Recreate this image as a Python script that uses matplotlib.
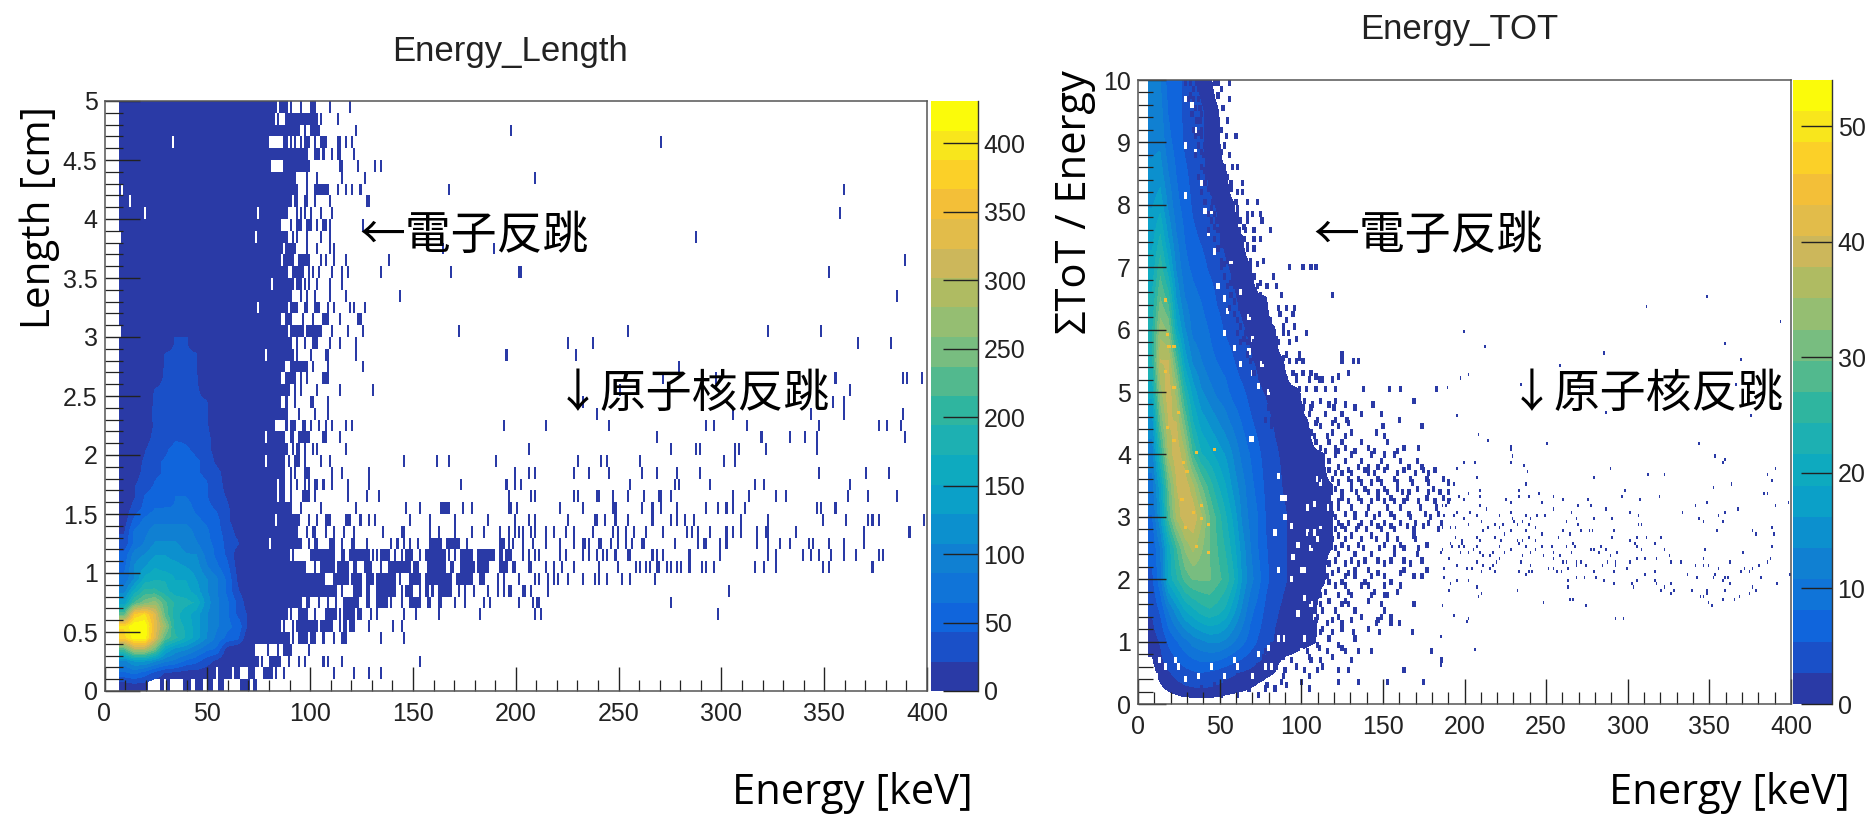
import numpy as np
import matplotlib
matplotlib.use('Agg')
import matplotlib.pyplot as plt
from matplotlib.colors import ListedColormap, BoundaryNorm
from matplotlib.ticker import MultipleLocator, FormatStrFormatter

W, H = 1866, 815
CJK = ['Noto Sans CJK JP', 'DejaVu Sans']

# colorbar bands, bottom to top
band_colors = ['#2a3aa6', '#1a50c8', '#1065dc', '#1074d8', '#1080d2', '#0c90ce', '#0ba0c8',
               '#0eaabf', '#1db0b2', '#2fb59f', '#52b98e', '#78bd80', '#95be72', '#afbb62',
               '#ccb75b', '#e2bc4a', '#f3bf38', '#fbd028', '#f8e61c', '#fbfb0a']

# ---- Energy_Length: 1 keV x 0.1 cm bins, rows run from 0.0 to 4.9 cm
len_max = 431
# last filled energy of the solid block in each row
len_edge = [20, 53, 74, 72, 89, 85, 88, 95, 112, 105,
            97, 89, 88, 92, 84, 87, 83, 83, 87, 77,
            88, 77, 82, 83, 85, 89, 85, 87, 78, 90,
            88, 85, 88, 90, 81, 88, 85, 86, 88, 85,
            88, 90, 92, 92, 79, 85, 79, 84, 82, 83]
# cells outside the solid block
len_cells = [
    [27, 28, 30, 31, 38, 39, 40, 41, 44, 45, 46, 47, 50, 51, 52, 55, 56, 57, 66, 67, 68, 69, 70, 72, 73],
    [*range(55, 62), 63, 64, 65, 70, 71, 72, *range(77, 82), 83, 87, 111, 121, 128, 134],
    [76, *range(80, 86), 89, 94, 97, 106, 108, 115, 153],
    [79, 84, 87, 88, 89, 90, 99],
    [91, *range(94, 99), 100, 101, 102, 106, 111, 115, 116, 117, 134, 145],
    [87, 91, *range(93, 104), *range(105, 111), 114, 116, 117, 119, 120, 121, 128, 140, 144],
    [90, *range(94, 99), 102, *range(107, 113), 114, *range(116, 122), 123, 124, 129, 132, 145, 151, 162, 182, 209, 212, 298],
    [98, 99, 104, 108, 112, *range(116, 124), 127, 128, *range(132, 138), 139, 144, *range(148, 154), 157, 158, 162, 163, 170, 175, 184, 187, 201, 208, 210, 211, 275],
    [115, *range(121, 125), 127, 128, *range(132, 142), 144, *range(146, 150), 153, 156, 157, 159, *range(162, 169), 172, 175, 179, 186, 191, 194, 196, 197, 203, 204, 207, 215, 303],
    [106, *range(111, 119), *range(120, 125), *range(127, 131), *range(132, 142), 143, *range(148, 154), *range(156, 169), *range(171, 179), 182, 183, 184, 191, 194, 201, 209, 211, 215, 218, 220, 225, 232, 238, 240, 244, 251, 255, 267],
    [102, *range(105, 112), *range(113, 119), 121, 122, 126, 127, 128, 129, 134, *range(138, 149), 150, 151, 152, *range(157, 166), 168, 169, *range(173, 180), *range(181, 187), 192, 193, 194, 195, 198, 199, 206, 207, 214, 218, 222, 228, 240, 249, 258, 260, 263, 265, 268, 269, 273, 275, 278, 280, 284, 290, 292, 296, 316, 320, 326, 349, 352, 373],
    [91, *range(100, 112), 115, 116, *range(119, 129), 130, 132, *range(134, 139), 141, 144, *range(146, 150), 153, *range(156, 166), 167, 170, *range(173, 179), *range(181, 190), 192, 193, 195, 196, 197, 203, 206, 209, 211, 221, 224, 232, 235, 239, 242, 244, 248, 254, 255, 266, 268, 271, 284, 299, 322, 326, 339, 343, 347, 353, 359, 365, 376, 378],
    [89, 90, 91, 92, 93, 94, 95, 99, 102, 103, 109, 110, 111, 115, 120, 121, 127, 139, 142, 145, 148, 152, *range(158, 164), *range(166, 173), 176, 192, 193, 194, 196, 198, 203, 208, 214, 221, 228, 232, 233, 235, 240, 241, 246, 249, 253, 256, 261, 262, 277, 288, 291, 292, 299, 302, 317, 322, 328, 333, 342, 344, 352, 359, 369],
    [93, 98, 101, 102, 107, 111, 116, 121, 135, 144, 145, 158, 162, 170, 178, 184, 192, 196, 199, 201, 203, 207, 209, 214, 218, 224, 228, 237, 247, 249, 253, 257, 263, 271, 283, 285, 288, 294, 302, 305, 309, 317, 321, 322, 336, 369, 391],
    [*range(85, 95), 99, 103, 107, 108, 109, 117, 118, 119, 124, 128, 131, 148, 158, 170, 186, 199, 206, 209, 225, 238, 239, 243, 248, 254, 266, 275, 278, 282, 286, 309, 322, 349, 360, 371, 373, 376, 398],
    [88, 89, 90, 95, 105, 122, 146, 153, *range(163, 168), 174, 178, 196, 200, 197, 221, 232, 247, 248, 261, 266, 270, 278, 292, 298, 302, 305, 311, 346, 348, 355],
    [85, 86, 87, 90, 96, 97, 98, 99, 102, 118, 127, 133, 196, 207, 209, 228, 230, 239, 240, 247, 254, 262, 269, 270, 275, 305, 313, 326, 331, 361, 371, 385],
    [85, 86, 87, 90, 93, 97, 99, 102, 103, 106, 110, 118, 128, 173, 195, 199, 202, 255, 277, 279, 294, 316, 320, 362],
    [90, 92, 97, 98, 99, 110, 115, 128, 199, 206, 209, 228, 235, 245, 261, 268, 278, 289, 347, 370, 381],
    [79, 80, 81, 82, 83, 84, 85, 86, 87, 89, 92, 93, 94, 97, 105, 109, 145, 161, 167, 190, 230, 241, 244, 260, 301, 306],
    [91, 93, 94, 97, 101, 103, 117, 206, 275, 287, 289, 306, 308, 321, 346],
    [79, 80, *range(81, 88), 90, 91, 94, 95, 96, 97, 98, 99, 106, 107, 114, 268, 319, 333, 340, 346, 389],
    [88, 90, 91, 92, 96, 97, 100, 104, 107, 110, 117, 120, 194, 214, 245, 292, 296, 312, 347, 376, 380, 387],
    [84, 85, 86, 87, 88, 94, 102, 108, 239, 305, 343, 359, 388],
    [88, 92, 100, 101, 108, 232, 354, 359],
    [92, 95, 103, 114, 130, 250, 362],
    [88, 89, 90, 91, 92, 95, 98, 106, 107, 108, 271, 297, 355, 388, 390, 397],
    [90, 91, 92, 93, 94, 95, 96, 97, 98, 101, 108, 125, 279],
    [79, *range(80, 92), 93, 100, 107, 108, 122, 195, 229],
    [93, 97, 101, 102, 103, 109, 114, 122, 225, 237, 366, 382],
    [*range(90, 97), *range(98, 106), 110, 118, 125, 172, 254, 322, 348],
    [88, 89, 90, 96, 101, 106, 107, 108, 114, 123, 124],
    [90, 91, 92, 93, 97, 98, 102, 103, 104, 108, 111, 119, 121, 126],
    [95, 98, 102, 109, 117, 143, 385],
    [82, 83, *range(84, 92), 93, 94, 95, 97, 99, 103, 109, 115],
    [91, 92, 93, 94, 95, 96, 99, 101, 104, 110, 115, 118, 134, 168, 201, 202, 352],
    [87, *range(88, 92), *range(94, 100), 105, 107, 111, 117, 138, 389],
    [88, 89, 90, 91, 92, 98, 103, 109, 111, 164, 189],
    [91, 93, 98, 105, 109, 287],
    [90, 93, 94, 95, 98, 99, 100, 103, 106, 107, 109, 125],
    [93, 95, 97, 100, 105, 110, 357],
    [92, 93, 97, 98, 102, 109, 127, 128],
    [93, 98, 102, 103, 104, 105, 106, 107, 108, 113, 117, 120, 124, 167, 359],
    [98, 103, 115, 126, 209],
    [80, *range(87, 93), 93, 94, *range(95, 100), 114, 115, 123, 131, 134],
    [86, *range(87, 98), 98, 102, 103, 104, 106, 110, 113, 114, 121],
    [87, 88, 90, 92, 95, 97, *range(98, 100), 102, 105, 106, 107, 113, 114, 117, 120, 270],
    [*range(85, 92), 92, 93, 94, 97, 100, 101, 102, 103, 104, 122, 197],
    [84, 88, *range(89, 104), 105, 113],
    [85, 86, 87, 88, 90, 95, 100, 101, 102, 109, 119],
]
# white holes inside the solid block (length row, energy)
len_hole_row = [46, 42, 41, 40, 40, 38, 38, 34, 32, 30, 28, 21, 19, 14, 12]
len_hole_e = [33, 8, 12, 19, 74, 7, 73, 81, 74, 7, 78, 78, 78, 83, 80]
# mean counts, columns 5 keV wide from 7 keV, rows from 0.0 cm
len_blocks = np.array([
    [10, 15, 12, 8, 5, 0, 0, 0, 0, 0, 0, 0, 0],
    [60, 70, 55, 35, 20, 15, 10, 10, 10, 10, 0, 0, 0],
    [100, 130, 130, 110, 90, 80, 60, 50, 30, 15, 5, 0, 0],
    [220, 290, 290, 240, 150, 120, 110, 90, 70, 60, 10, 0, 0],
    [380, 425, 425, 330, 230, 200, 170, 140, 110, 80, 60, 50, 5],
    [390, 430, 430, 340, 270, 180, 170, 140, 110, 90, 70, 60, 20],
    [230, 370, 390, 330, 230, 180, 160, 140, 110, 90, 70, 40, 20],
    [140, 220, 250, 270, 220, 190, 180, 170, 120, 90, 70, 40, 10],
    [100, 160, 200, 200, 180, 160, 160, 140, 110, 90, 60, 25, 5],
    [70, 110, 160, 170, 170, 150, 150, 130, 110, 90, 60, 20, 5],
    [60, 110, 130, 150, 140, 140, 130, 120, 90, 70, 50, 15, 3],
    [50, 100, 110, 130, 130, 120, 110, 110, 80, 60, 40, 10, 3],
    [30, 70, 90, 110, 110, 110, 100, 90, 70, 60, 35, 25, 3],
    [20, 70, 80, 100, 100, 100, 100, 80, 70, 50, 35, 15, 3],
    [10, 50, 70, 80, 80, 80, 80, 70, 60, 50, 25, 10, 0],
    [8, 30, 50, 65, 65, 65, 75, 60, 50, 40, 25, 10, 0],
    [5, 20, 45, 50, 60, 65, 65, 55, 45, 30, 20, 10, 0],
    [5, 20, 35, 45, 50, 60, 60, 50, 45, 30, 15, 5, 0],
    [5, 10, 30, 40, 45, 50, 50, 45, 40, 30, 10, 0, 0],
    [5, 10, 25, 40, 45, 50, 50, 45, 40, 15, 5, 0, 0],
    [5, 8, 20, 35, 40, 50, 45, 40, 30, 10, 5, 0, 0],
    [5, 5, 10, 30, 30, 40, 40, 40, 30, 8, 0, 0, 0],
    [5, 5, 8, 25, 30, 35, 35, 30, 25, 5, 0, 0, 0],
    [5, 5, 8, 28, 28, 32, 32, 30, 25, 5, 0, 0, 0],
    [5, 5, 5, 26, 28, 30, 30, 28, 24, 0, 0, 0, 0],
    [5, 5, 5, 24, 28, 30, 28, 26, 10, 0, 0, 0, 0],
    [5, 5, 5, 10, 26, 28, 26, 24, 5, 0, 0, 0, 0],
    [5, 5, 5, 5, 25, 26, 26, 24, 0, 0, 0, 0, 0],
    [5, 5, 5, 5, 24, 25, 25, 24, 0, 0, 0, 0, 0],
    [5, 5, 5, 5, 10, 24, 24, 10, 0, 0, 0, 0, 0],
], dtype=float)

# ---- Energy_TOT: smooth body sampled every 5 keV (from 8.5) and every 0.5 in y (from 0)
tot_max = 54
tot_body_rows = [
    [0],
    [0.5, 1.5, 2.5, 3.5, 4.5, 5, 5.5, 5, 4.5, 3.5, 3, 2.5, 2, 1.5, 1.2, 1],
    [1.5, 3, 6, 8, 10, 12, 13, 14, 14, 13, 11, 9, 7, 5, 3.5, 2.5, 2, 1.7, 1.4, 1.2, 1.05],
    [3, 6, 11, 15, 19, 21, 23, 24, 23, 21, 17, 13, 9, 7, 4.5, 3, 2.4, 2, 1.6, 1.3, 1.1],
    [5, 10, 20, 24, 28, 30, 30, 30, 28, 26, 22, 16, 12, 9, 6, 4, 3, 2.4, 2, 1.8, 1.5, 1.2],
    [6, 11, 20, 27, 33, 36, 33, 30, 27, 24, 20, 15, 11, 8, 5.5, 4, 3, 2.4, 2, 1.7, 1.4, 1.2, 1.05],
    [8, 16, 28, 36, 40, 40, 36, 30, 26, 22, 18, 13, 10, 8, 5, 4, 3, 2.4, 2, 1.8, 1.6, 1.3, 1.1],
    [10, 18, 30, 38, 40, 36, 30, 26, 22, 19, 15, 12, 9, 7, 4.5, 3.5, 2.6, 2.2, 1.9, 1.6, 1.4, 1.2, 1.05],
    [12, 24, 36, 40, 36, 27, 22, 20, 18, 16, 13, 10, 8, 6, 4, 3, 2.4, 2, 1.7, 1.5, 1.2, 1.05],
    [15, 30, 38, 38, 30, 22, 18, 16, 14, 12, 10, 8, 6, 4.5, 3.2, 2.5, 2, 1.7, 1.4, 1.15],
    [20, 34, 40, 34, 24, 18, 14, 12, 10, 9, 7, 6, 4.5, 3, 2.5, 2, 1.6, 1.3, 1.1],
    [24, 38, 38, 28, 18, 13, 11, 9, 8, 7, 5.5, 4, 3, 2.2, 1.7, 1.3, 1.1],
    [24, 34, 32, 20, 14, 10, 9, 8, 6.5, 5, 4, 3, 2.2, 1.7, 1.3, 1.1],
    [22, 30, 26, 16, 11, 9, 8, 7, 5, 4, 3, 2, 1.6, 1.2, 1.05],
    [20, 26, 20, 13, 9, 7.5, 6.5, 5, 4, 3, 2.2, 1.5, 1.1],
    [18, 22, 16, 11, 8, 6, 5, 4, 3, 2, 1.4, 1.05],
    [16, 18, 13, 9, 7, 5, 4, 3, 2.5, 1.5, 1.1],
    [14, 15, 11, 8, 6, 4.5, 3, 2.5, 1.5, 1.2],
    [13, 13, 9, 7, 5, 4, 3, 2, 1.5],
    [12, 12, 8, 6, 5, 4, 3, 2, 1.2],
    [11, 11, 7, 6, 5, 3, 2, 1.5],
]
# speckled fringe of the body (y, energies)
tot_fringe_y = [9.95, 9.8, 9.65, 9.5, 9.35, 9.2, 9.05, 8.9, 8.75, 8.6, 8.45, 8.3, 8.15, 8.0, 7.85, 7.7, 7.55,
                7.4, 7.25, 7.1, 6.95, 6.8, 6.65, 6.5, 6.35, 6.2, 6.05, 5.9, 5.75, 5.6, 5.45, 5.3, 5.15, 5.0,
                4.85, 4.7, 4.55, 4.4, 4.25, 4.1, 3.95, 3.8, 3.65, 3.5, 3.35, 3.2, 3.05, 2.9, 2.75, 2.6, 2.45,
                2.3, 2.15, 2.0, 1.85, 1.7, 1.55, 1.4, 1.25, 1.1, 0.95, 0.8, 0.65, 0.5, 0.35, 0.2, 0.12]
tot_fringe_e = [
    [28, 31, 35, 37, 40, 46, 48, 55], [33, 36, 38, 42, 44, 50], [30, 33, 36, 40, 45, 55], [34, 37, 41, 47, 51],
    [35, 37, 42, 48, 54], [33, 38, 43, 50], [34, 38, 44, 47, 53, 59], [36, 40, 45, 48, 52], [34, 39, 43, 49, 55],
    [38, 42, 46, 52, 57, 60], [36, 41, 47, 50, 54], [40, 43, 47, 50, 56, 63], [38, 44, 49, 52, 54, 60, 63],
    [40, 45, 48, 53, 59, 66, 72], [42, 46, 50, 54, 60, 66, 69, 74], [44, 47, 52, 56, 60, 62, 66, 75],
    [42, 48, 52, 56, 61, 65, 70, 80], [46, 50, 54, 58, 64, 70, 74], [48, 53, 57, 62, 66, 70], [50, 54, 58, 62, 68, 76],
    [50, 56, 60, 63, 68, 92, 100, 105, 108], [52, 57, 61, 66, 70, 82], [54, 58, 63, 68, 72, 78, 84],
    [56, 60, 64, 70, 74, 87, 118], [55, 61, 66, 71, 76, 85, 90, 95], [58, 63, 68, 73, 78, 86, 94],
    [62, 66, 70, 76, 80, 88, 95], [60, 65, 68, 72, 76, 82, 88, 91, 102], [62, 66, 70, 74, 80, 85, 92],
    [66, 70, 75, 80, 84, 90, 98, 124], [68, 72, 76, 82, 86, 92, 96, 100, 124, 131, 134],
    [70, 74, 78, 84, 88, 94, 100, 105, 128], [75, 80, 85, 90, 96, 104, 110, 112, 118],
    [80, 84, 88, 92, 98, 102, 108, 114, 120, 137, 153, 160, 182],
    [93, 101, 111, 120, 168], [79, 85, 100, 105, 119, 132], [77, 81, 89, 99, 109, 120, 127, 159],
    [81, 93, 103, 111, 122, 149, 173], [91, 99, 107, 115, 126, 150], [93, 103, 111, 120, 126, 140, 162, 171],
    [99, 109, 120, 130, 142, 150, 156], [105, 111, 122, 134, 140, 146, 152, 165, 173],
    [109, 120, 124, 130, 140, 144, 158, 169, 177], [113, 122, 130, 136, 142, 148, 158, 167, 177, 189],
    [115, 124, 133, 140, 146, 152, 161, 165, 177, 184, 189], [105, 122, 128, 136, 142, 150, 156, 162, 171, 181, 189],
    [107, 118, 126, 132, 139, 147, 154, 165, 175, 183], [111, 122, 128, 136, 142, 150, 160, 169, 177, 185],
    [109, 120, 126, 133, 139, 148, 156, 168, 183], [107, 118, 126, 136, 145, 152, 158, 169],
    [109, 120, 128, 137, 147, 156, 162, 171], [107, 120, 130, 138, 146, 154, 162, 173], [103, 122, 132, 140, 162, 176],
    [115, 126, 132, 142, 150, 168, 173], [105, 120, 126, 136, 140, 150, 160], [111, 122, 130, 142, 150, 152],
    [111, 124, 128, 148, 168], [109, 122, 136, 148, 154], [103, 115, 124, 145, 154, 159], [89, 111, 118, 131, 147, 167],
    [81, 93, 101, 109, 122], [77, 93, 103, 115, 126, 134, 142, 179], [93, 105, 111, 130, 185],
    [89, 101, 109, 122, 128, 162], [52, 69, 87, 99, 122, 134, 152, 174], [38, 48, 54, 67, 77, 83, 104], [44, 50, 60, 73],
]
# a second, offset layer of the same fringe
tot_fringe2_y = [9.73, 9.43, 9.13, 8.83, 8.53, 8.23, 7.93, 7.63, 7.33, 7.03, 6.73, 6.43, 6.13, 5.83, 5.53, 5.23,
                 4.78, 4.62, 4.48, 4.33, 4.18, 4.03, 3.88, 3.73, 3.58, 3.43, 3.28, 3.13, 2.98, 2.83, 2.68, 2.53,
                 2.38, 2.23, 2.08, 1.93, 1.78, 1.63, 1.48, 1.33, 1.18, 1.03, 0.88, 0.73, 0.58, 0.43, 0.28]
tot_fringe2_e = [
    [31, 38, 48], [32, 38, 46], [36, 42, 48], [38, 44, 50], [40, 46, 52], [42, 48, 56], [44, 50, 60], [46, 54, 64],
    [50, 56, 66], [52, 60, 72], [56, 64, 74], [58, 66, 76], [60, 70, 80, 90], [64, 74, 84, 96], [70, 80, 88, 98],
    [78, 86, 96, 108, 122],
    [86, 96, 106, 116, 126, 143], [84, 92, 104, 114, 124, 136, 148], [88, 98, 108, 118, 128], [88, 97, 105, 118, 130, 145],
    [96, 108, 116, 124, 136, 152], [100, 114, 122, 132, 144, 158], [104, 116, 126, 136, 148, 160, 170],
    [106, 116, 128, 138, 150, 162, 174, 181], [110, 118, 128, 134, 146, 156, 166, 176, 186],
    [112, 120, 130, 138, 150, 158, 170, 180], [108, 116, 124, 134, 146, 154, 164, 176, 186],
    [110, 114, 122, 130, 140, 152, 160, 172, 182], [104, 114, 120, 132, 144, 156, 166, 178],
    [108, 116, 124, 134, 146, 154, 164, 174], [104, 112, 122, 130, 142, 152, 168], [106, 114, 124, 134, 150, 160, 176],
    [102, 112, 122, 132, 142, 156, 170], [106, 116, 126, 134, 150, 166], [110, 118, 128, 146, 160],
    [104, 116, 124, 138, 154], [106, 114, 128, 144, 158], [104, 116, 126, 140], [100, 112, 120, 132, 150],
    [96, 108, 118, 130, 146], [88, 100, 112, 124, 140], [90, 104, 116, 132], [84, 96, 110, 124], [76, 88, 104, 118],
    [72, 84, 96, 112], [60, 74, 88, 104], [46, 56, 66, 78, 90],
]
# white specks inside the body
tot_hole_y = [4.23, 4.23, 0.68, 0.65, 0.76, 0.89, 1.03, 1.03, 0.89, 3.3, 3.27, 2.95, 2.74, 2.1, 3.64, 2.84, 2.52, 2.1, 2.1,
              2.31, 1.99, 2.47, 2.63, 2.74, 2.84, 2.74, 3.11, 1.56, 1.45, 1.67, 3.59, 3.54, 3.16, 3.11, 3.48, 3.27, 2.63,
              2.31, 1.99, 1.67, 1.35, 1.35, 1.03, 0.81, 0.65, 0.6, 0.6, 0.6, 0.44, 0.6, 0.44, 0.6, 0.44, 0.39, 0.55, 0.55,
              0.65, 0.44, 8.9, 8.13, 8.8, 9.2, 9.57, 9.68, 7.86, 7.54, 7.22, 6.69, 6.47, 6.26, 5.94, 5.65, 5.4, 5.3, 5.1,
              8.3, 7.86, 7.33, 7.0, 6.58, 6.15, 5.83, 5.4, 4.98, 5.94, 5.62]
tot_hole_e = [68, 69, 22, 58, 73, 79, 85, 89, 93, 89, 87, 89, 83, 85, 85, 93, 97, 101, 99,
              94, 93, 105, 109, 103, 111, 107, 115, 105, 97, 101, 109, 111, 107, 103, 120, 118, 118,
              120, 120, 118, 114, 107, 101, 99, 89, 93, 81, 77, 69, 60, 52, 44, 36, 28, 24, 16,
              12, 10, 28, 28, 34, 34, 32, 28, 40, 42, 46, 48, 52, 54, 52, 58, 62, 69, 73,
              38, 44, 50, 56, 62, 67, 69, 75, 79, 60, 67]
# hot specks along the ridge
tot_spot_y = [4.23, 3.88, 4.68, 4.44, 4.02, 4.07, 3.72, 3.3, 3.19, 3.06, 2.95, 2.84, 2.87, 2.52, 2.42, 5.94, 5.73, 5.7, 5.35, 5.06, 6.47]
tot_spot_e = [21, 27, 24, 17, 35, 46, 29, 26, 38, 33, 38, 28, 42, 35, 42, 17, 18, 21, 16, 21, 16]
# isolated counts on the right side (y, energies)
tot_far_y = [6.53, 6.39, 6.13, 5.98, 5.79, 5.74, 5.63, 5.54, 5.42, 5.28, 5.24, 5.13, 5.08, 4.98, 4.84, 4.69, 4.63,
             4.33, 4.23, 4.19, 4.12, 4.07, 3.98, 3.92, 3.88, 3.84, 3.78, 3.72, 3.69, 3.63, 3.57, 3.54, 3.48, 3.43,
             3.38, 3.33, 3.28, 3.23, 3.18, 3.14, 3.08, 3.03, 2.98, 2.92, 2.87, 2.81, 2.79, 2.73, 2.67, 2.63, 2.58,
             2.52, 2.48, 2.43, 2.39, 2.33, 2.28, 2.23, 2.17, 2.14, 2.08, 2.03, 1.98, 1.93, 1.88, 1.83, 1.77, 1.72,
             1.67, 1.62, 1.58, 1.43, 1.37, 1.32, 1.08, 0.88, 0.62]
tot_far_e = [
    [348], [311], [393], [199], [359], [212], [285], [369], [258], [202], [197], [234, 366], [189, 270], [327], [382],
    [286], [195, 375],
    [208], [214], [250, 343], [228], [228], [229, 353], [359], [358, 228, 199, 206], [236], [195, 289, 390], [238],
    [385, 312, 322], [207, 279], [388], [363, 193, 237], [352], [298, 190, 233, 209], [383, 385, 245, 202],
    [196, 209, 233, 239, 254, 296, 319], [225, 260, 275, 307, 199, 191], [398, 247, 228, 348],
    [209, 186, 188, 277, 269, 390, 341], [254, 286, 213, 367], [265, 333, 359, 301, 203, 228, 195],
    [207, 355, 306, 249, 244, 237, 221, 193, 187], [229, 240, 343, 268, 290, 279, 199], [358, 262, 210, 230, 235, 346],
    [306, 308, 202, 223, 218, 232, 269, 239], [194, 214, 221, 243, 191, 186, 388],
    [271, 276, 278, 291, 376, 354, 260, 211, 228, 237], [224, 247, 378, 389, 264],
    [320, 311, 305, 290, 257, 239, 218, 207, 194], [243, 235, 232, 222, 209, 198, 198, 301], [198, 191, 316, 304, 233, 266],
    [253, 247, 262, 267, 283, 305, 388, 221, 237, 207, 192, 196, 199], [277, 279, 308, 322, 228, 243, 186, 205, 286, 347],
    [202, 209, 185, 197, 217, 224, 240, 254, 265, 282, 293, 370], [211, 215, 235, 248, 258, 289, 325],
    [190, 221, 254, 305, 310, 317, 346, 387], [234, 262, 268, 271, 260, 287, 292, 301, 326, 332, 362, 385, 207, 219],
    [274, 195, 211, 217, 240, 341, 346, 349, 284, 380, 292, 268], [376, 355, 204, 201, 215, 251, 254, 263, 299, 371, 187],
    [291, 279, 316, 369, 374, 210, 218, 233, 239, 241, 256, 259], [237, 353, 336, 399, 310],
    [361, 359, 352, 342, 381, 187, 268, 273, 280], [195, 202, 285, 263, 316, 305, 358], [191, 302, 291, 362, 391, 326, 317],
    [322, 303, 263, 376, 207], [190, 232, 320, 328, 339, 378, 359, 348], [326, 348, 210, 374], [208, 344, 346, 368],
    [365, 358, 264, 266], [349, 248], [351, 274, 186], [193], [202, 292, 297], [201], [185], [206], [185],
]

x_ticks = [0, 50, 100, 150, 200, 250, 300, 350, 400]
len_cbar_ticks = [0, 50, 100, 150, 200, 250, 300, 350, 400]
tot_cbar_ticks = [0, 10, 20, 30, 40, 50]


def px_axes(fig, x0, y0, x1, y1):
    # axes box given in image pixels
    return fig.add_axes([x0 / W, 1 - y1 / H, (x1 - x0) / W, (y1 - y0) / H])


def style_axes(ax, y_major, y_minor, lens):
    ax.set_xlim(0, 400)
    ax.set_xticks(x_ticks)
    ax.xaxis.set_minor_locator(MultipleLocator(10))
    ax.yaxis.set_major_locator(MultipleLocator(y_major))
    ax.yaxis.set_minor_locator(MultipleLocator(y_minor))
    ax.yaxis.set_major_formatter(FormatStrFormatter('%g'))
    ax.tick_params(which='major', direction='in', colors='#222222', labelsize=18, width=1.0)
    ax.tick_params(axis='x', which='major', length=lens[0], pad=8)
    ax.tick_params(axis='y', which='major', length=lens[2], pad=5)
    ax.tick_params(axis='x', which='minor', direction='in', length=lens[1], width=0.9, color='#222222')
    ax.tick_params(axis='y', which='minor', direction='in', length=lens[3], width=0.9, color='#222222')
    for side in ax.spines.values():
        side.set_color('#555555')
        side.set_linewidth(1.1)


def style_cbar(cb, ticks, length):
    cb.set_ticks(ticks)
    cb.ax.minorticks_off()
    cb.ax.tick_params(direction='in', length=length, width=1.0, labelsize=18, colors='#222222', pad=4)
    cb.outline.set_visible(False)
    cb.ax.spines['right'].set_visible(True)
    cb.ax.spines['right'].set_color('#333333')
    cb.ax.spines['right'].set_linewidth(1.0)


def see_through_cmap(colors):
    # values under the lowest band leave the cells below visible
    c = ListedColormap(colors)
    c.set_under((1, 1, 1, 0))
    return c


plt.rcParams['font.family'] = ['Liberation Sans', 'DejaVu Sans']
fig = plt.figure(figsize=(W / 100, H / 100), dpi=100)
cmap = ListedColormap(band_colors)

# left histogram
ax1 = px_axes(fig, 104.5, 101, 927, 691)
len_grid = np.full((50, 400), np.nan)
for row in range(50):
    len_grid[row, 7:len_edge[row] + 1] = 5
    for e in len_cells[row]:
        len_grid[row, e] = 5
for row, e in zip(len_hole_row, len_hole_e):
    len_grid[row, e] = np.nan
len_levels = np.linspace(0, len_max, 21)
len_norm = BoundaryNorm(len_levels, 20)
m1 = ax1.pcolormesh(np.arange(401), np.arange(51) * 0.1, np.ma.masked_invalid(len_grid),
                    cmap=cmap, norm=len_norm, rasterized=True, zorder=1)
ax1.imshow(len_blocks, origin='lower', extent=(7, 72, 0, 3), aspect='auto',
           cmap=see_through_cmap(band_colors[1:]), norm=BoundaryNorm(len_levels[1:], 19),
           interpolation='bilinear', interpolation_stage='data', zorder=1.5)
ax1.set_xlim(0, 400)
ax1.set_ylim(0, 5)
style_axes(ax1, 0.5, 0.1, (17, 8, 25, 13))

cax1 = px_axes(fig, 931, 101, 978, 691)
cb1 = fig.colorbar(m1, cax=cax1, spacing='proportional')
style_cbar(cb1, len_cbar_ticks, 25)

# right histogram
ax2 = px_axes(fig, 1138, 80, 1791, 704)
body = np.zeros((21, 25))
for row, vals in enumerate(tot_body_rows):
    body[row, :len(vals)] = vals
body_edges = np.linspace(0, tot_max, 21)
body_edges[0] = 1
tot_norm = BoundaryNorm(np.linspace(0, tot_max, 21), 20)
ax2.imshow(body, origin='lower', extent=(6, 131, -0.25, 10.25), aspect='auto',
           cmap=see_through_cmap(band_colors), norm=BoundaryNorm(body_edges, 20), interpolation='bilinear',
           interpolation_stage='data', zorder=0)

holes = np.full((200, 400), np.nan)
for y, e in zip(tot_hole_y, tot_hole_e):
    holes[int(y / 0.05):int(y / 0.05) + 2, e:e + 2] = 1
ax2.pcolormesh(np.arange(401), np.arange(201) * 0.05, np.ma.masked_invalid(holes),
               cmap=ListedColormap(['white']), rasterized=True, zorder=0.5)

tot_grid = np.full((200, 400), np.nan)
for y, e in zip(tot_spot_y, tot_spot_e):
    tot_grid[int(y / 0.05), e:e + 2] = 45
for ys, rows in ((tot_fringe_y, tot_fringe_e), (tot_fringe2_y, tot_fringe2_e)):
    for y, es in zip(ys, rows):
        for e in es:
            tot_grid[int(y / 0.05):int(y / 0.05) + 2, e:e + 2] = 1
for y, es in zip(tot_far_y, tot_far_e):
    for e in es:
        tot_grid[int(y / 0.05), e] = 1
m2 = ax2.pcolormesh(np.arange(401), np.arange(201) * 0.05, np.ma.masked_invalid(tot_grid),
                    cmap=cmap, norm=tot_norm, rasterized=True, zorder=1)
ax2.set_ylim(0, 10)
style_axes(ax2, 1, 0.2, (18, 9, 20, 11))

cax2 = px_axes(fig, 1793, 80, 1832, 704)
cb2 = fig.colorbar(m2, cax=cax2, spacing='proportional')
style_cbar(cb2, tot_cbar_ticks, 22)


def put_text(x, y, s, size, family, **kw):
    fig.text(x / W, 1 - y / H, s, fontsize=size, family=family, ha='center', va='center', **kw)


# titles from the plots
put_text(510, 52, 'Energy_Length', 25, ['Liberation Sans'], color='#222222')
put_text(1459, 30, 'Energy_TOT', 25, ['Liberation Sans'], color='#222222')
# labels and notes pasted on top of the plots
put_text(40, 218, 'Length [cm]', 29, ['Open Sans'], rotation=90)
put_text(852, 793, 'Energy [keV]', 30, ['Open Sans'])
put_text(1075, 202, 'ΣToT / Energy', 30, ['Open Sans'], rotation=90)
put_text(1729, 793, 'Energy [keV]', 30, ['Open Sans'])
put_text(474, 236, '←電子反跳', 33, CJK)
put_text(692, 394, '↓原子核反跳', 33, CJK)
put_text(1428, 236, '←電子反跳', 33, CJK)
put_text(1646, 394, '↓原子核反跳', 33, CJK)

fig.savefig('out.png', dpi=100)
